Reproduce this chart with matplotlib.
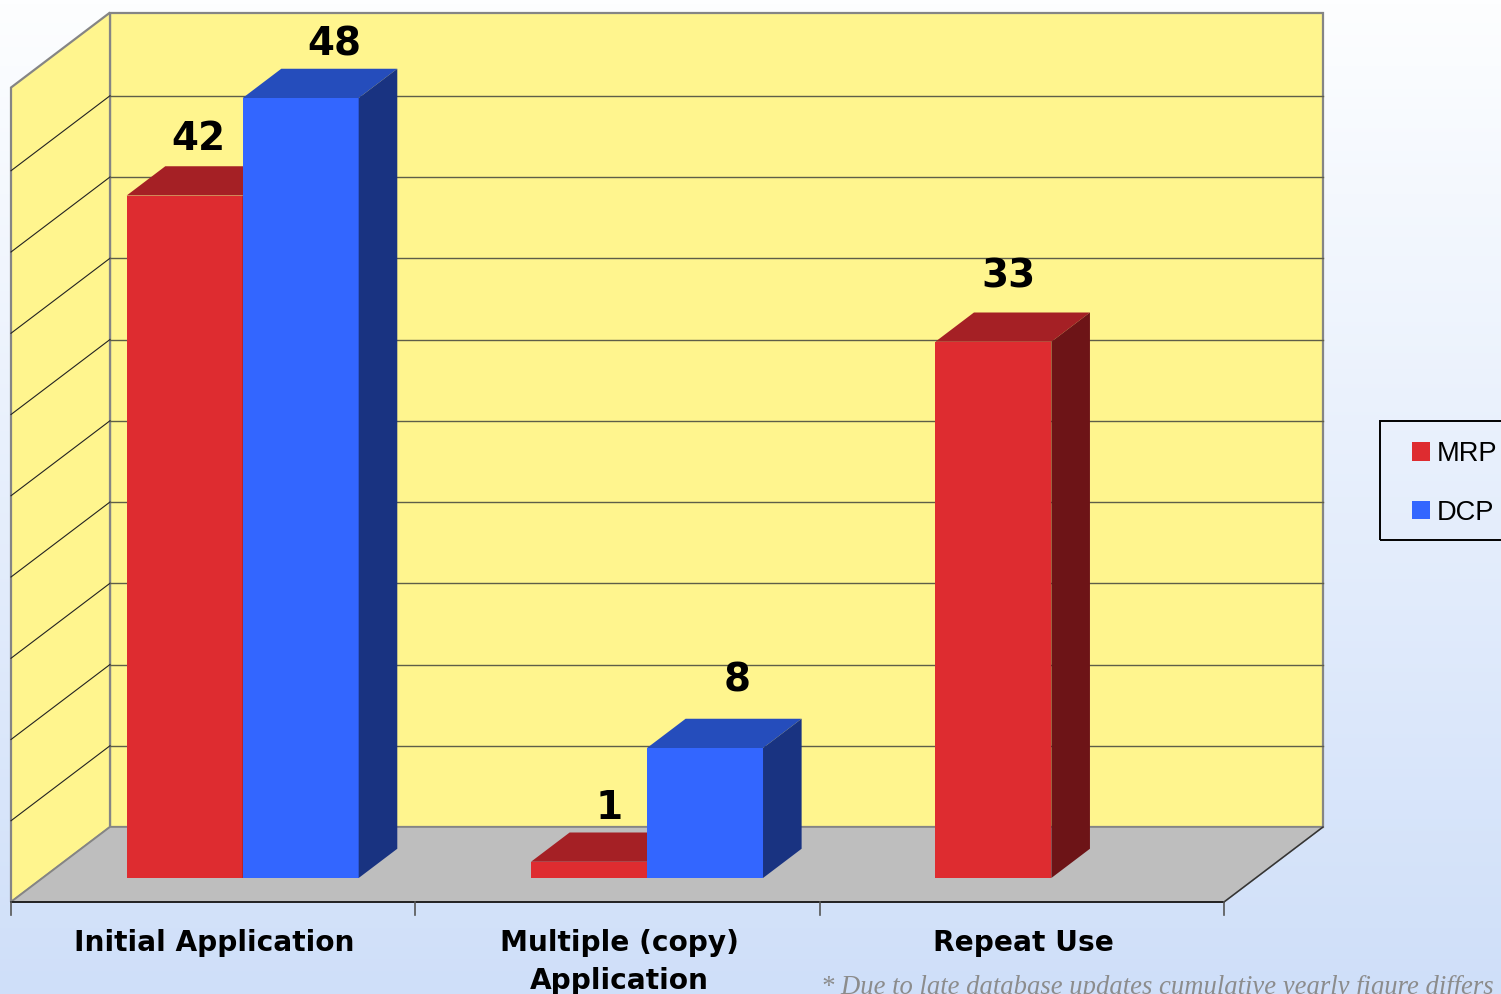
import matplotlib
matplotlib.use("Agg")
import matplotlib.pyplot as plt
import numpy as np
from matplotlib.patches import Polygon, Patch, Rectangle

categories = ["Initial Application", "Multiple (copy)\nApplication", "Repeat Use"]
series_names = ["MRP", "DCP"]
mrp = [42, 1, 33]
dcp = [48, 8, None]
y_ticks = np.arange(0, 55, 5)
footnote = "* Due to late database updates cumulative yearly figure differs"

# hand placed label nudges in the original, px from the bar's front top centre
mrp_nudge = [(14, 56), (20, 54), (15, 65)]
dcp_nudge = [(34, 53), (32, 68), None]

W, H = 1501, 994
CAT_PX = 404.33
UNIT_PX = 16.25
X0_PX, Y0_PX = 11, 902
DEPTH_X = 99 / CAT_PX
DEPTH_Y = 75 / UNIT_PX
BAR_D0, BAR_D1 = 0.32, 0.71
BAR_W = 116 / CAT_PX
GAP = 84 / CAT_PX
WALL_TOP = 50.12

COLORS = {
    "MRP": ("#DE2C30", "#A52025", "#6D1417"),
    "DCP": ("#3366FF", "#254DBC", "#193381"),
}


def pt(x, v, d=0.0):
    # oblique projection: d=0 is the front of the floor, d=1 the back wall
    return (x + d * DEPTH_X, v + d * DEPTH_Y)


def bar3d(ax, x, v, name):
    front, top, side = COLORS[name]
    x1 = x + BAR_W
    ax.add_patch(Polygon([pt(x, 0, BAR_D0), pt(x1, 0, BAR_D0), pt(x1, v, BAR_D0), pt(x, v, BAR_D0)],
                         fc=front, ec="none", zorder=3))
    ax.add_patch(Polygon([pt(x, v, BAR_D0), pt(x1, v, BAR_D0), pt(x1, v, BAR_D1), pt(x, v, BAR_D1)],
                         fc=top, ec="none", zorder=3))
    ax.add_patch(Polygon([pt(x1, 0, BAR_D0), pt(x1, 0, BAR_D1), pt(x1, v, BAR_D1), pt(x1, v, BAR_D0)],
                         fc=side, ec="none", zorder=3))


def value_label(ax, x, v, nudge):
    lx, ly = pt(x + BAR_W / 2, v, BAR_D0)
    ax.annotate(f"{v}", (lx, ly), xytext=(nudge[0] * 0.72, nudge[1] * 0.72), textcoords="offset points",
                ha="center", va="center", fontsize=28, fontweight="bold", color="black", zorder=4)


fig = plt.figure(figsize=(W / 100, H / 100), dpi=100)

# background gradient
bg = fig.add_axes([0, 0, 1, 1], zorder=0)
bg.axis("off")
c_top = np.array([253, 254, 255]) / 255
c_bot = np.array([207, 223, 249]) / 255
t = np.linspace(0, 1, 256)[:, None, None]
bg.imshow(c_top * (1 - t) + c_bot * t, aspect="auto", extent=[0, 1, 0, 1])

ax = fig.add_axes([0, 0, 1, 1], zorder=1)
ax.patch.set_alpha(0)
ax.axis("off")
ax.set_xlim(-X0_PX / CAT_PX, (W - X0_PX) / CAT_PX)
ax.set_ylim((Y0_PX - H) / UNIT_PX, Y0_PX / UNIT_PX)

n = len(categories)
wall = "#FFF58E"
edge = "#858585"

# walls and floor
ax.add_patch(Polygon([pt(0, 0, 1), pt(n, 0, 1), pt(n, WALL_TOP, 1), pt(0, WALL_TOP, 1)],
                     fc=wall, ec=edge, lw=1.6, zorder=1))
ax.add_patch(Polygon([pt(0, 0, 0), pt(0, 0, 1), pt(0, WALL_TOP, 1), pt(0, WALL_TOP, 0)],
                     fc=wall, ec=edge, lw=1.6, zorder=1))
ax.add_patch(Polygon([pt(0, 0, 0), pt(n, 0, 0), pt(n, 0, 1), pt(0, 0, 1)],
                     fc="#BEBEBE", ec=edge, lw=1.2, zorder=1.5))
p0, p1 = pt(n, 0, 0), pt(n, 0, 1)
ax.plot([p0[0], p1[0]], [p0[1], p1[1]], color="#333333", lw=1.0, zorder=1.6)

for v in y_ticks[1:-1]:
    p0, p1, p2 = pt(0, v, 0), pt(0, v, 1), pt(n, v, 1)
    ax.plot([p0[0], p1[0]], [p0[1], p1[1]], color="#222222", lw=0.8, zorder=2)
    ax.plot([p1[0], p2[0]], [p1[1], p2[1]], color="#5E5E48", lw=1.0, zorder=2)

# front axis and ticks
ax.plot([0, n], [0, 0], color="#111111", lw=1.2, zorder=2.5)
for i in range(n + 1):
    ax.plot([i, i], [0, -13 / UNIT_PX], color="#555555", lw=1.2, zorder=2.5)

# bars and value labels
for i in range(n):
    x_m = i + GAP
    x_d = x_m + BAR_W
    bar3d(ax, x_m, mrp[i], "MRP")
    value_label(ax, x_m, mrp[i], mrp_nudge[i])
    if dcp[i] is not None:
        bar3d(ax, x_d, dcp[i], "DCP")
        value_label(ax, x_d, dcp[i], dcp_nudge[i])
    ax.text(i + 0.5 + 1.5 / CAT_PX, -1.64, categories[i], ha="center", va="top", fontsize=20.2,
            fontweight="bold", color="black", linespacing=1.46)

ax.text(1494 / W, (H - 987) / H, footnote, transform=fig.transFigure, ha="right", va="center",
        family="Liberation Serif", style="italic", fontsize=19.2, color="#8C8C8C")

# legend box runs off the right edge of the picture
fig.add_artist(Rectangle((1380 / W, 1 - 540 / H), 140 / W, 119 / H, transform=fig.transFigure,
                         fc="none", ec="black", lw=1.4))
handles = [Patch(fc=COLORS[s][0], ec="none") for s in series_names]
ax.legend(handles, series_names, loc="upper left", bbox_to_anchor=(1412 / W, 1 - 441 / H),
          bbox_transform=fig.transFigure, frameon=False, handlelength=0.66, handleheight=0.66,
          handletextpad=0.26, labelspacing=1.2, borderpad=0, borderaxespad=0,
          prop={"family": "Liberation Sans", "size": 19.6})

fig.savefig("out.png", dpi=100)
